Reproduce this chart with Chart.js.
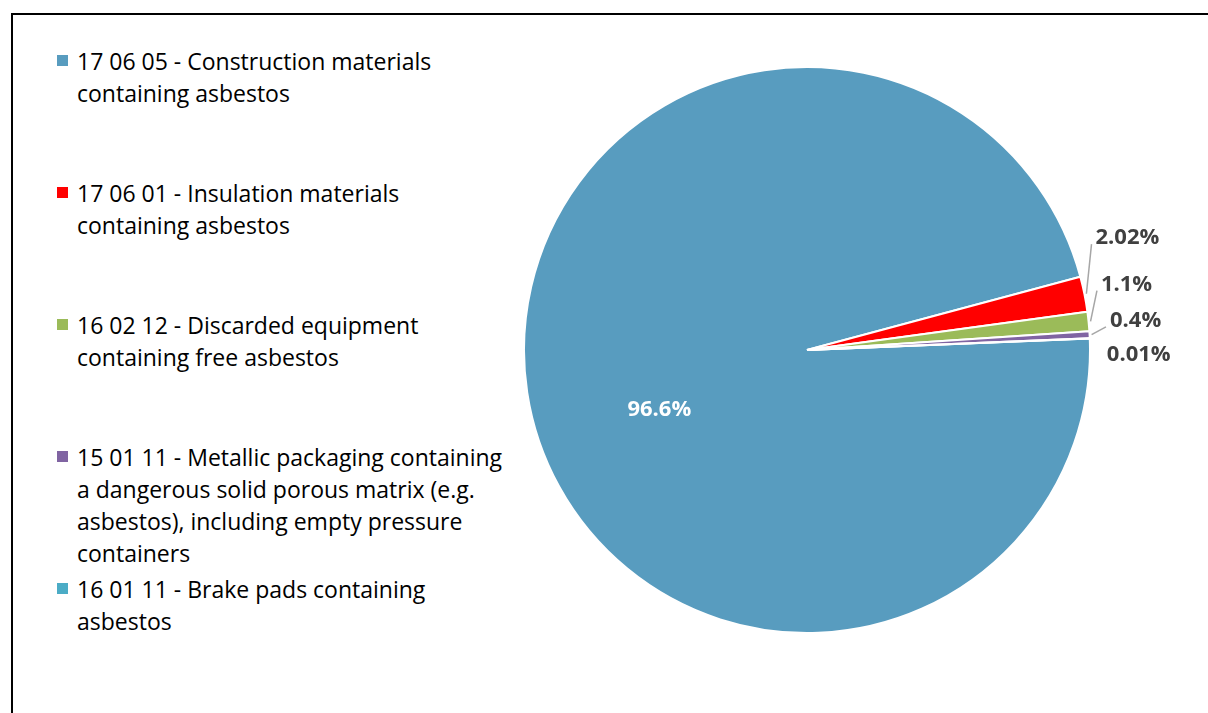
<!DOCTYPE html>
<html>
<head>
<meta charset="utf-8">
<script src="https://cdn.jsdelivr.net/npm/chart.js@4/dist/chart.umd.min.js"></script>
<style>
    html, body { margin: 0; padding: 0; background: #fff; overflow: hidden; }
    body { width: 1208px; height: 713px; position: relative; font-family: "Open Sans", sans-serif; }
    .frame {
        position: absolute; left: 11px; top: 13px; width: 1300px; height: 800px;
        border-left: 2px solid #000; border-top: 2px solid #000;
    }
    #legend { position: absolute; left: 57px; top: 45px; width: 470px; }
    .legend-item { position: relative; height: 132px; padding-left: 20px; font-size: 23px; line-height: 32px; color: #000; white-space: nowrap; }
    .legend-box { position: absolute; left: 0; top: 10px; width: 11px; height: 11px; }
    .chart-wrap { position: absolute; left: 520px; top: 64px; width: 688px; height: 572px; }
</style>
</head>
<body>
<div class="frame"></div>
<div id="legend"></div>
<div class="chart-wrap"><canvas id="pieChart"></canvas></div>

<script>
// Waste codes, split into the lines shown in the legend
const categories = [
    ["17 06 05 - Construction materials", "containing asbestos"],
    ["17 06 01 - Insulation materials", "containing asbestos"],
    ["16 02 12 - Discarded equipment", "containing free asbestos"],
    ["15 01 11 - Metallic packaging containing", "a dangerous solid porous matrix (e.g.", "asbestos), including empty pressure", "containers"],
    ["16 01 11 - Brake pads containing", "asbestos"]
];
const shares = [96.6, 2.02, 1.1, 0.4, 0.01];
const sliceColors = ["#589cbf", "#ff0000", "#9bbb59", "#8064a2", "#4bacc6"];

// label placement relative to the arc (inside for the big slice, outside + leader for the rest)
const labelStyle = [
    { inside: true, dx: 16, dy: 35, color: "#ffffff" },
    { dx: 43, dy: -56, leader: true, color: "#404040" },
    { dx: 38, dy: -37, leader: true, color: "#404040" },
    { dx: 46, dy: -14, leader: true, color: "#404040" },
    { dx: 49, dy: 16, leader: false, color: "#404040" }
];

const pieLabels = {
    id: "pieLabels",
    afterDatasetsDraw(chart) {
        const ctx = chart.ctx;
        const meta = chart.getDatasetMeta(0);
        ctx.save();
        ctx.font = "bold 22px 'Open Sans', sans-serif";
        ctx.textAlign = "center";
        ctx.textBaseline = "middle";
        meta.data.forEach((arc, i) => {
            const p = arc.getProps(["x", "y", "startAngle", "endAngle", "outerRadius"], true);
            const mid = (p.startAngle + p.endAngle) / 2;
            const st = labelStyle[i];
            const text = shares[i] + "%";
            const r = st.inside ? p.outerRadius * 0.585 : p.outerRadius;
            const ax = p.x + Math.cos(mid) * r;
            const ay = p.y + Math.sin(mid) * r;
            const lx = ax + st.dx;
            const ly = ay + st.dy;
            if (st.leader) {
                const w = ctx.measureText(text).width;
                ctx.strokeStyle = "#a6a6a6";
                ctx.lineWidth = 1.5;
                ctx.beginPath();
                ctx.moveTo(ax + Math.cos(mid) * 2, ay + Math.sin(mid) * 2);
                ctx.lineTo(lx - w / 2 - 4, ly + 6);
                ctx.stroke();
            }
            ctx.fillStyle = st.color;
            ctx.fillText(text, lx, ly);
        });
        ctx.restore();
    }
};

const chart = new Chart(document.getElementById("pieChart"), {
    type: "pie",
    data: {
        labels: categories,
        datasets: [{
            data: shares,
            backgroundColor: sliceColors,
            borderColor: "#ffffff",
            borderWidth: 2
        }]
    },
    options: {
        responsive: true,
        maintainAspectRatio: false,
        animation: false,
        rotation: 87.68,
        layout: { padding: { left: 3, top: 2, bottom: 2, right: 117 } },
        plugins: {
            legend: { display: false },
            tooltip: { enabled: false }
        }
    },
    plugins: [pieLabels]
});

// HTML legend built from the chart's own legend items
const legendEl = document.getElementById("legend");
chart.legend.legendItems.forEach((item) => {
    const row = document.createElement("div");
    row.className = "legend-item";
    const box = document.createElement("span");
    box.className = "legend-box";
    box.style.background = item.fillStyle;
    row.appendChild(box);
    const lines = Array.isArray(item.text) ? item.text : [item.text];
    lines.forEach((line) => {
        const d = document.createElement("div");
        d.textContent = line;
        row.appendChild(d);
    });
    legendEl.appendChild(row);
});
</script>
</body>
</html>
